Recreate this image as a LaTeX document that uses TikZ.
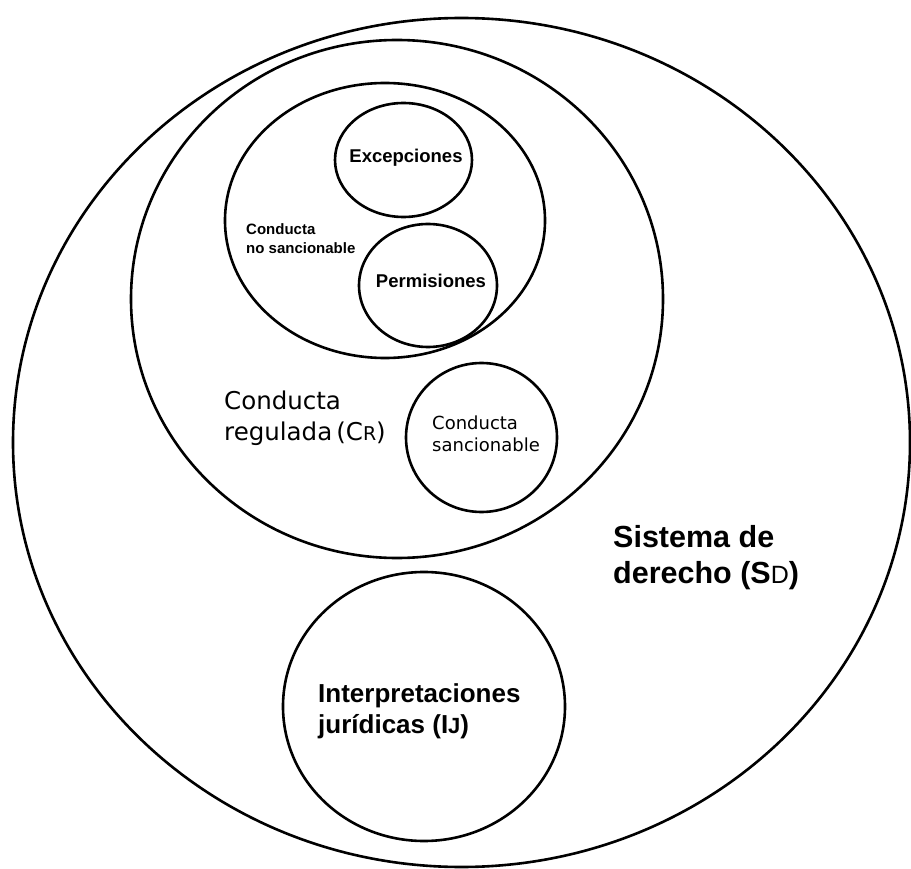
\documentclass[tikz,border=0pt]{standalone}
\usepackage{fontspec}
\setmainfont{Liberation Sans}
\newfontfamily\dejavu{DejaVu Sans}
\usepackage{tikz}
\usetikzlibrary{shapes,positioning}
\newcommand{\Sm}[2]{{\fontsize{#1}{#1}\selectfont #2}}
\tikzset{conj/.style={ellipse,draw,line width=2.6pt,inner sep=0pt},
  lbl/.style={inner sep=0pt,align=left}}

\begin{document}
\begin{tikzpicture}[x=1pt,y=-1pt]
  \useasboundingbox (0,0) rectangle (911,869);
  \node[conj,minimum width=897pt,minimum height=849pt] (sd) at (461.5,442.5) {};
  \node[conj,minimum width=532pt,minimum height=518pt] (cr) at (397,299) {};
  \node[conj,minimum width=320pt,minimum height=275pt] (cns) at (385,220.5) {};
  \node[conj,minimum width=137pt,minimum height=114pt] (exc) at (403.5,160) {};
  \node[conj,minimum width=138pt,minimum height=123pt] (perm) at (428,285.5) {};
  \node[conj,minimum width=151pt,minimum height=149pt] (cs) at (481.5,437.5) {};
  \node[conj,minimum width=282pt,minimum height=269pt] (ij) at (424,706.5) {};
  \node[lbl,anchor=base,font=\fontsize{18.5}{22}\selectfont\bfseries] (excl) at (406,163) {Excepciones};
  \node[lbl,anchor=base,font=\fontsize{18.5}{22}\selectfont\bfseries] (perml) at (431,288) {Permisiones};
  \node[lbl,anchor=north west,font=\fontsize{15}{19.5}\selectfont\bfseries] (cnsl) at (246,223) {Conducta\\no sancionable};
  \node[lbl,anchor=north west,font=\dejavu\fontsize{24.5}{31}\selectfont] (crl) at (224,391) {Conducta\\regulada\,(C\Sm{19}{R})};
  \node[lbl,anchor=north west,font=\dejavu\fontsize{18}{22}\selectfont] (csl) at (432,416) {Conducta\\sancionable};
  \node[lbl,anchor=north west,font=\fontsize{30.5}{36}\selectfont\bfseries] (sdl) at (613,525) {Sistema de\\derecho (S{\mdseries\Sm{25}{D}})};
  \node[lbl,anchor=north west,font=\fontsize{26}{31}\selectfont\bfseries] (ijl) at (318,683) {Interpretaciones\\jurídicas (I\Sm{22}{J})};
\end{tikzpicture}
\end{document}
